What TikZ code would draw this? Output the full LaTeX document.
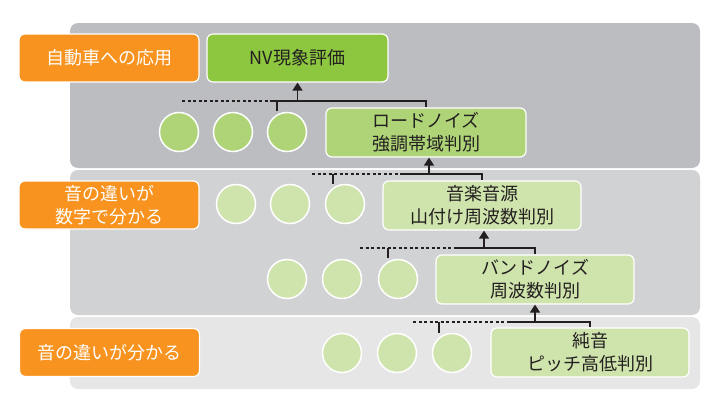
\documentclass[tikz,border=0pt]{standalone}
\usepackage{fontspec}
\setmainfont{Noto Sans CJK JP}
\usetikzlibrary{arrows.meta}
\definecolor{panelA}{HTML}{BCBDC0}
\definecolor{panelB}{HTML}{D1D2D4}
\definecolor{panelC}{HTML}{E6E6E7}
\definecolor{orangeC}{HTML}{F7931E}
\definecolor{greenA}{HTML}{8DC63F}
\definecolor{greenB}{HTML}{AED477}
\definecolor{greenC}{HTML}{CFE4AC}
\definecolor{txt}{HTML}{231F20}
\tikzset{
  panel/.style={rounded corners=8pt},
  obox/.style={fill=orangeC,draw=white,line width=1.2pt,rounded corners=6pt,minimum width=180pt,minimum height=48pt,text=white,font=\fontsize{18}{23}\selectfont,align=center,inner sep=0pt},
  gbox/.style={draw=white,line width=1.2pt,rounded corners=6pt,minimum width=198pt,minimum height=49pt,text=txt,font=\fontsize{18}{23}\selectfont,align=center,inner sep=0pt},
  circ/.style={circle,draw=white,line width=1.5pt,minimum size=39pt,inner sep=0pt},
  conn/.style={line width=1.4pt,draw=txt},
  dconn/.style={line width=1.4pt,draw=txt,dash pattern=on 3pt off 2.5pt},
  arr/.style={line width=1.4pt,draw=txt,-{Triangle[width=10pt,length=8pt]},fill=txt},
}
\begin{document}
\begin{tikzpicture}[x=1pt,y=-1pt]
\useasboundingbox (0,0) rectangle (720,415);
% panels
\fill[panelA,panel] (70,23) rectangle (700,168);
\fill[panelB,panel] (70,170) rectangle (700,315);
\fill[panelC,panel] (70,317) rectangle (700,389);
% orange labels
\node[obox] (o1) at (109,58) {自動車への応用};
\node[obox] (o2) at (109,205) {音の違いが\\数字で分かる};
\node[obox] (o3) at (109.5,352.5) {音の違いが分かる};
% green boxes
\node[gbox,fill=greenA,minimum width=181pt,minimum height=48pt] (nv) at (297.5,58) {NV現象評価};
\node[gbox,fill=greenB,minimum width=200pt] (rn) at (426,132.5) {ロードノイズ\\強調帯域判別};
\node[gbox,fill=greenC] (om) at (482,205.5) {音楽音源\\山付け周波数判別};
\node[gbox,fill=greenC] (bn) at (535,279.5) {バンドノイズ\\周波数判別};
\node[gbox,fill=greenC] (pt) at (590,352.5) {純音\\ピッチ高低判別};
% circles
\node[circ,fill=greenB] (c11) at (179,132) {};
\node[circ,fill=greenB] (c12) at (233,132) {};
\node[circ,fill=greenB] (c13) at (287,132) {};
\node[circ,fill=greenC] (c21) at (236,204) {};
\node[circ,fill=greenC] (c22) at (290,204) {};
\node[circ,fill=greenC] (c23) at (345,204) {};
\node[circ,fill=greenC] (c31) at (287,279) {};
\node[circ,fill=greenC] (c32) at (342,279) {};
\node[circ,fill=greenC] (c33) at (398,279) {};
\node[circ,fill=greenC] (c41) at (342,353) {};
\node[circ,fill=greenC] (c42) at (397,353) {};
\node[circ,fill=greenC] (c43) at (452,353) {};
% connector 1
\coordinate (s1) at (182,101);
\coordinate (j1) at (270,101);
\coordinate (t1) at (277,111);
\draw[dconn] (s1) -- (j1);
\draw[conn] (j1) -| (rn.north);
\draw[conn] (t1 |- j1) -- (t1);
\draw[arr] (nv.south |- j1) -- (nv.south);
% connector 2
\coordinate (s2) at (312,174);
\coordinate (j2) at (400,174);
\coordinate (t2) at (333,184);
\draw[dconn] (s2) -- (j2);
\draw[conn] (j2) -| (om.north);
\draw[conn] (t2 |- j2) -- (t2);
\draw[arr] ([xshift=3pt]rn.south |- j2) -- ([xshift=3pt]rn.south);
% connector 3
\coordinate (s3) at (360,248);
\coordinate (j3) at (455,248);
\coordinate (t3) at (388,258);
\draw[dconn] (s3) -- (j3);
\draw[conn] (j3) -| (bn.north);
\draw[conn] (t3 |- j3) -- (t3);
\draw[arr] ([xshift=2pt]om.south |- j3) -- ([xshift=2pt]om.south);
% connector 4
\coordinate (s4) at (413,322);
\coordinate (j4) at (507,322);
\coordinate (t4) at (439,333);
\draw[dconn] (s4) -- (j4);
\draw[conn] (j4) -| (pt.north);
\draw[conn] (t4 |- j4) -- (t4);
\draw[arr] (bn.south |- j4) -- (bn.south);
\end{tikzpicture}
\end{document}
